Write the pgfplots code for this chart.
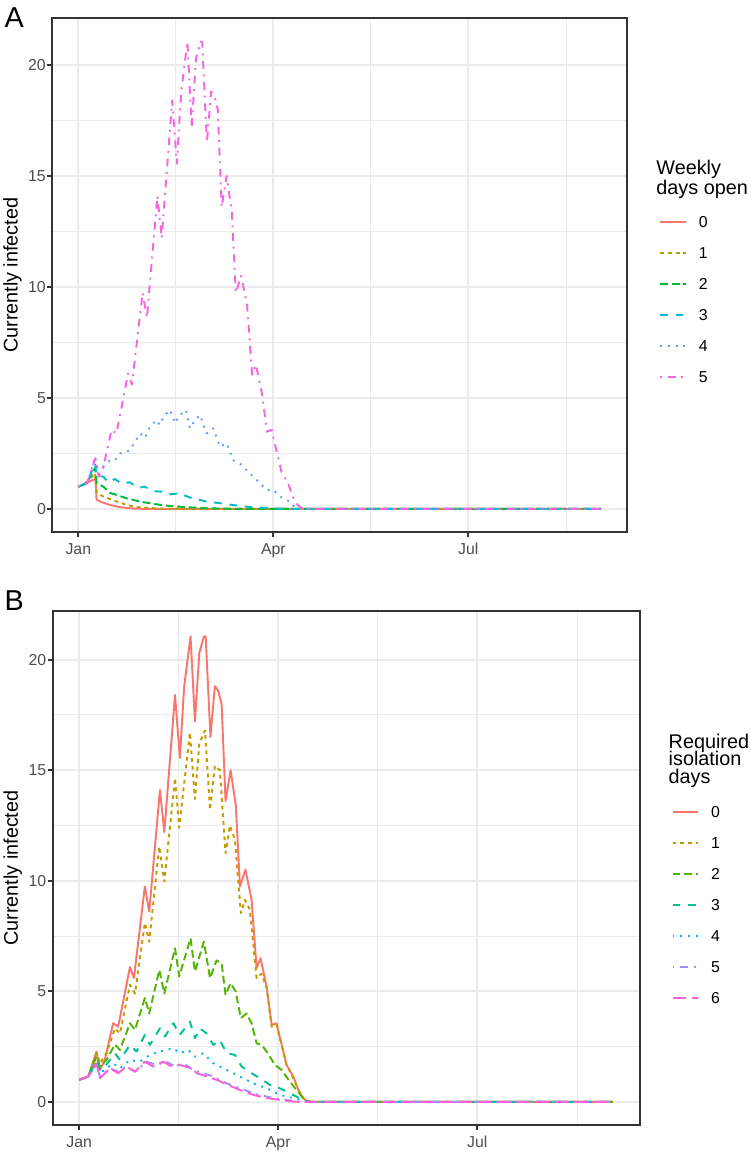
\documentclass[border=0pt]{standalone}
\usepackage{fontspec}
\setmainfont{Liberation Sans}
\usepackage{pgfplots}
\pgfplotsset{compat=1.18}
\definecolor{gridc}{HTML}{EBEBEB}
\definecolor{borderc}{HTML}{333333}
\definecolor{ticklab}{HTML}{4D4D4D}
\definecolor{a0}{HTML}{F8766D}
\definecolor{a1}{HTML}{B79F00}
\definecolor{a2}{HTML}{00BA38}
\definecolor{a3}{HTML}{00BFC4}
\definecolor{a4}{HTML}{619CFF}
\definecolor{a5}{HTML}{F564E3}
\definecolor{b0}{HTML}{F8766D}
\definecolor{b1}{HTML}{C49A00}
\definecolor{b2}{HTML}{53B400}
\definecolor{b3}{HTML}{00C094}
\definecolor{b4}{HTML}{00B6EB}
\definecolor{b5}{HTML}{A58AFF}
\definecolor{b6}{HTML}{FB61D7}
\tikzset{
 lt0/.style={solid},
 lt1/.style={dash pattern=on 2.14pt off 2.14pt},
 lt2/.style={dash pattern=on 4.28pt off 2.14pt},
 lt3/.style={dash pattern=on 4.28pt off 4.28pt},
 lt4/.style={dash pattern=on 1.07pt off 3.21pt},
 lt5/.style={dash pattern=on 1.07pt off 3.21pt on 4.28pt off 3.21pt},
 lt6/.style={dash pattern=on 7.49pt off 3.21pt},
}
\pgfplotsset{
 gg/.style={
  scale only axis,
  xmin=-12.2, xmax=256.2, ymin=-1.05,
  xtick={0,91,182}, xticklabels={Jan,Apr,Jul},
  minor xtick={45.5,136.5,228},
  ytick={0,5,10,15,20}, minor ytick={2.5,7.5,12.5,17.5},
  grid=both,
  major grid style={color=gridc, line width=1.07pt},
  minor grid style={color=gridc, line width=0.53pt},
  axis line style={color=borderc, line width=1.07pt},
  tick align=outside, tick pos=left,
  major tick length=2.75pt, minor tick length=0pt,
  every tick/.style={color=borderc, line width=1.07pt},
  /pgf/number format/assume math mode=true,
  ticklabel style={font=\fontsize{8.8}{10}\selectfont, text=ticklab, inner sep=0pt},
  yticklabel style={anchor=east, xshift=-0.6pt},
  xticklabel style={anchor=base, yshift=-9.6pt},
  legend cell align=left,
  legend image code/.code={\draw[#1] (0pt,3.15pt) -- (14.4pt,3.15pt);},
  legend style={draw=none, fill=none, inner sep=0pt, outer sep=0pt, row sep=0pt, column sep=6.5pt,
    font=\fontsize{8.8}{10}\selectfont,
    nodes={inner sep=0pt, text height=8.625pt, text depth=8.625pt, anchor=base west}},
  every axis plot/.append style={line width=1.07pt, line join=round, no markers},
 }
}
\begin{document}
\begin{tikzpicture}
\useasboundingbox (0,0) rectangle (416.7pt,640pt);
% ---------------- Panel A
\begin{axis}[gg, name=axA, at={(29.0pt,344.3pt)}, anchor=south west,
  width=319.5pt, height=285.5pt, ymax=22.1,
  legend style={at={(axis description cs:1,1)}, anchor=north west, xshift=17.8pt, yshift=-107.6pt}]
\addplot[a0,lt0] coordinates {(0,1.0)(2,1.09)(4,1.18)(6,1.27)(8,1.35)(8.5,0.42)(11,0.3)(14.8,0.18)(19.4,0.08)(25.6,0.02)(32,0)(244,0)};
\addlegendentry{0}
\addplot[a1,lt1] coordinates {(0,1.0)(3,1.12)(5,1.3)(7.8,1.62)(8.6,0.72)(11.7,0.56)(16,0.4)(19,0.3)(22.5,0.18)(28,0.08)(37,0.02)(45,0)(244,0)};
\addlegendentry{1}
\addplot[a2,lt2] coordinates {(0,1.0)(3,1.12)(5,1.35)(7.8,1.85)(8.6,1.15)(11.7,1.0)(14.8,0.72)(18,0.63)(22.5,0.48)(28.8,0.33)(35,0.23)(41,0.15)(50,0.08)(60,0.03)(70,0.01)(80,0)(244,0)};
\addlegendentry{2}
\addplot[a3,lt3] coordinates {(0,1.0)(3,1.12)(5,1.4)(7.8,2.05)(8.6,1.5)(11.7,1.45)(14,1.2)(17,1.35)(20,1.15)(24,1.2)(28,0.95)(31,1.0)(35,0.8)(39,0.78)(42,0.65)(47,0.7)(53,0.48)(60,0.33)(66,0.26)(72,0.18)(79,0.1)(85,0.06)(92,0.02)(100,0)(244,0)};
\addlegendentry{3}
\addplot[a4,lt4] coordinates {(0,1.0)(3,1.15)(5,1.4)(7.8,2.36)(8.9,1.83)(11.7,1.9)(14.8,2.2)(17.1,2.2)(19.4,2.5)(22.5,2.58)(24.1,2.65)(28.8,3.4)(31.1,3.2)(33.4,3.7)(36.5,4.0)(38.1,3.78)(39.7,4.16)(42.8,4.46)(45.1,3.86)(46.7,4.16)(50.2,4.46)(52.1,3.63)(54.4,4.0)(56.8,4.23)(59.9,3.4)(63,3.63)(66.1,2.8)(69.2,2.96)(72.3,2.2)(75.4,2.05)(77,1.9)(80.1,1.6)(84.8,1.16)(87.9,0.86)(91,0.86)(94.1,0.56)(98.8,0.33)(101.1,0.07)(102.6,0)(244,0)};
\addlegendentry{4}
\addplot[a5,lt5] coordinates {(0,1.0)(4.1,1.15)(7.9,2.28)(9.5,1.45)(11.7,1.9)(15.5,3.56)(17.8,3.4)(23.2,6.1)(25,5.6)(30,9.74)(32,8.6)(36.9,14.1)(38.9,12.2)(43.8,18.4)(46,15.55)(48,18.8)(50.9,21.05)(52.9,17.2)(54.9,20.3)(57,21.05)(57.8,21.05)(60,16.5)(62,18.8)(63.5,18.6)(65.1,18.0)(66.9,13.6)(69.2,15.0)(71.6,13.4)(73.5,9.74)(76,10.5)(78.8,9.14)(81.1,6.05)(82.9,6.5)(85.7,5.2)(88,3.48)(90.2,3.56)(94.8,1.67)(97.9,1.15)(100.2,0.54)(102.4,0.17)(104,0.05)(106,0)(244,0)};
\addlegendentry{5}
\end{axis}
\node[anchor=base west, font=\fontsize{11}{13}\selectfont, inner sep=0pt] at ([xshift=16pt, yshift=-86.6pt]axA.north east) {Weekly};
\node[anchor=base west, font=\fontsize{11}{13}\selectfont, inner sep=0pt] at ([xshift=16pt, yshift=-98.1pt]axA.north east) {days open};
\node[rotate=90, font=\fontsize{11}{13}\selectfont, inner sep=0pt] at ([xshift=-22.1pt]axA.west) {Currently infected};
\node[font=\fontsize{16}{18}\selectfont, inner sep=0pt] at (7.9pt,630.1pt) {A};
% ---------------- Panel B
\begin{axis}[gg, name=axB, at={(29.2pt,14.9pt)}, anchor=south west,
  width=326.1pt, height=285.7pt, ymax=22.2,
  legend style={at={(axis description cs:1,1)}, anchor=north west, xshift=17.8pt, yshift=-106.2pt}]
\addplot[b0,lt0] coordinates {(0,1.0)(4.1,1.15)(7.9,2.28)(9.5,1.45)(11.7,1.9)(15.5,3.56)(17.8,3.4)(23.2,6.1)(25,5.6)(30,9.74)(32,8.6)(36.9,14.1)(38.9,12.2)(43.8,18.4)(46,15.55)(48,18.8)(50.9,21.05)(52.9,17.2)(54.9,20.3)(57,21.05)(57.8,21.05)(60,16.5)(62,18.8)(63.5,18.6)(65.1,18.0)(66.9,13.6)(69.2,15.0)(71.6,13.4)(73.5,9.74)(76,10.5)(78.8,9.14)(81.1,6.05)(82.9,6.5)(85.7,5.2)(88,3.48)(90.2,3.56)(94.8,1.67)(97.9,1.15)(100.2,0.54)(102.4,0.17)(104,0.05)(106,0)(244,0)};
\addlegendentry{0}
\addplot[b1,lt1] coordinates {(0,1)(4.1,1.15)(7.9,2.2)(9.5,1.75)(12.5,2.2)(16.3,3.33)(18.6,3.1)(23.2,5.3)(25.5,4.9)(30,8.1)(32,7.25)(36.6,11.55)(38.9,9.97)(43.8,14.65)(45.7,12.4)(50.6,16.7)(52.9,13.7)(54.9,16.2)(57.5,16.8)(59.8,13.2)(62,15.2)(64.3,15.0)(66.9,11.25)(68.9,12.5)(71.2,11.85)(73.9,8.54)(75.8,9.14)(78,8.7)(81.1,5.6)(83.4,5.8)(85.7,5.14)(88,3.4)(90.2,3.5)(94.8,1.67)(97.9,1.07)(100.2,0.54)(102.4,0.17)(104,0.05)(106,0)(244,0)};
\addlegendentry{1}
\addplot[b2,lt2] coordinates {(0,1)(4.1,1.15)(7.9,2.05)(9.5,1.6)(12.5,1.9)(16.3,2.6)(18.6,2.35)(23.2,3.56)(25.5,3.26)(30,4.7)(32,4.0)(36.6,5.97)(38.9,4.9)(43.8,6.95)(45.7,5.67)(50.9,7.4)(52.9,5.9)(57,7.25)(59.8,5.6)(62.8,6.4)(65.1,6.27)(66.9,4.84)(69.2,5.37)(71.5,5.0)(73.9,3.79)(76.5,4.0)(78.8,3.56)(81.1,2.65)(83.4,2.58)(85.7,2.28)(89.5,1.67)(92.5,1.45)(96.3,0.92)(99.4,0.54)(102.4,0.17)(104,0.05)(106,0)(244,0)};
\addlegendentry{2}
\addplot[b3,lt3] coordinates {(0,1)(4.1,1.15)(7.9,1.9)(9.5,1.45)(12.5,1.7)(16.3,2.2)(18.6,1.9)(23.2,2.58)(26.2,2.28)(30,3.03)(32.3,2.58)(36.9,3.33)(39.2,2.96)(43,3.56)(46,3.03)(50.6,3.63)(52.9,2.88)(55.2,3.33)(58.2,3.1)(61.3,2.58)(64.3,2.8)(67.4,2.2)(71.2,2.13)(74.2,1.6)(78.8,1.3)(82.6,1.07)(87.2,0.77)(90.2,0.69)(94.8,0.47)(99.4,0.24)(102.4,0.09)(105,0)(244,0)};
\addlegendentry{3}
\addplot[b4,lt4] coordinates {(0,1)(4.1,1.15)(7.9,1.75)(9.5,1.3)(15.5,1.75)(18.6,1.52)(23.2,1.9)(27.7,1.82)(32.3,2.13)(36.9,2.28)(43,2.43)(46,2.2)(49.8,2.35)(52.9,2.05)(56.7,2.2)(61.3,1.75)(67.4,1.45)(73.5,1.15)(79.6,0.84)(85.7,0.62)(91.8,0.32)(97.9,0.17)(102.4,0.06)(105,0)(244,0)};
\addlegendentry{4}
\addplot[b5,lt5] coordinates {(0,1)(4.1,1.15)(7.9,1.67)(9.5,1.15)(14,1.52)(17.8,1.37)(21.6,1.6)(25.5,1.37)(30.8,1.82)(35.4,1.67)(39.9,1.82)(43.8,1.6)(47.6,1.75)(52.1,1.45)(56.7,1.3)(61.3,1.15)(67.4,0.84)(73.5,0.62)(79.6,0.39)(85.7,0.24)(91.8,0.12)(97.9,0.05)(102,0)(244,0)};
\addlegendentry{5}
\addplot[b6,lt6] coordinates {(0,1)(4.1,1.15)(7.9,1.75)(9.5,1.07)(14,1.52)(17.8,1.3)(21.6,1.6)(25.5,1.37)(30,1.82)(33.8,1.6)(38.4,1.82)(42.2,1.6)(46,1.67)(51.4,1.52)(53.7,1.3)(58.2,1.15)(62.8,1.0)(68.1,0.77)(73.5,0.54)(79.6,0.32)(85.7,0.17)(91.8,0.09)(97.9,0.02)(101,0)(244,0)};
\addlegendentry{6}
\end{axis}
\node[anchor=base west, font=\fontsize{11}{13}\selectfont, inner sep=0pt] at ([xshift=16pt, yshift=-76.3pt]axB.north east) {Required};
\node[anchor=base west, font=\fontsize{11}{13}\selectfont, inner sep=0pt] at ([xshift=16pt, yshift=-86.1pt]axB.north east) {isolation};
\node[anchor=base west, font=\fontsize{11}{13}\selectfont, inner sep=0pt] at ([xshift=16pt, yshift=-95.7pt]axB.north east) {days};
\node[rotate=90, font=\fontsize{11}{13}\selectfont, inner sep=0pt] at ([xshift=-22.1pt]axB.west) {Currently infected};
\node[font=\fontsize{16}{18}\selectfont, inner sep=0pt] at (7.9pt,306.1pt) {B};
\end{tikzpicture}
\end{document}
